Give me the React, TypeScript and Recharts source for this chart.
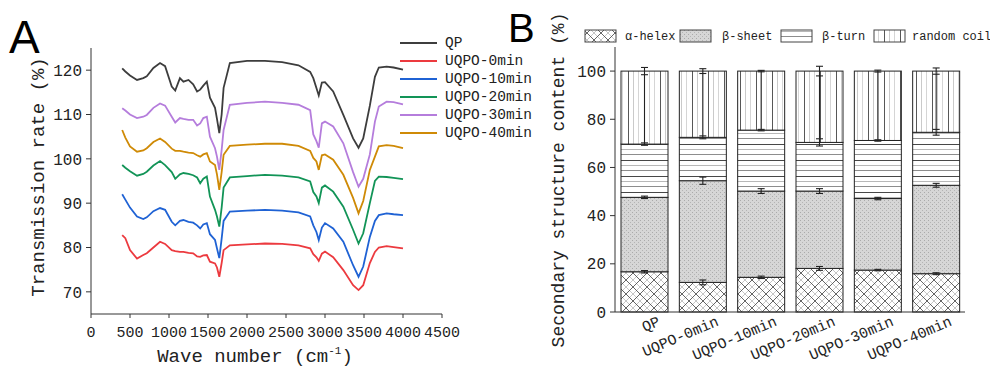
import React from 'react';
import { LineChart, Line, XAxis, YAxis, BarChart, Bar, Legend } from 'recharts';

// ---------- Panel A data (FTIR spectra) ----------
const WAVENUMBERS = [400, 440, 500, 590, 670, 715, 800, 885, 950, 1035, 1080, 1140, 1185, 1250, 1310, 1360, 1400, 1440, 1485, 1525, 1590, 1615, 1645, 1675, 1700, 1780, 2000, 2230, 2450, 2660, 2810, 2850, 2890, 2920, 2960, 3000, 3105, 3235, 3360, 3430, 3490, 3575, 3640, 3690, 3790, 3880, 4000];
const QP_VALUES = [120.4, 119.7, 118.8, 117.8, 118.2, 118.6, 120.5, 121.6, 120.9, 116.3, 115.4, 118.2, 117.4, 117.8, 116.8, 115.2, 115.6, 116.5, 117.4, 113.8, 111.5, 109, 105.8, 110, 116, 121.6, 122.1, 122.1, 121.8, 121.1, 119.6, 118.2, 116, 114.3, 117.2, 117.3, 115.2, 109.9, 104.6, 102.5, 104.6, 112, 118.5, 120.6, 120.8, 120.6, 120.1];
const UQPO0_VALUES = [82.8, 82.1, 79.4, 77.5, 78.3, 78.7, 80, 81.3, 80.8, 79.4, 79.2, 79, 79, 78.8, 78.7, 78, 77.9, 78.2, 78.3, 76.8, 76.4, 75.5, 73.4, 76.5, 79.4, 80.5, 80.7, 80.9, 80.8, 80.5, 79.8, 78.5, 77.8, 77, 78.6, 79.1, 77.8, 74.9, 71.5, 70.4, 71.5, 76.5, 79, 80, 80.3, 80.1, 79.8];
const UQPO10_VALUES = [92, 90.8, 89, 87, 86.4, 86.8, 88.2, 88.9, 88.5, 85.8, 85, 86, 86.2, 85.8, 85.6, 85, 84.3, 85.2, 85.5, 83, 81.7, 79.8, 77.6, 82, 86, 88.1, 88.3, 88.5, 88.3, 87.9, 87, 85, 83.5, 81.7, 84.5, 85.5, 84.3, 81.3, 76, 73.4, 75.7, 82.4, 86, 87.3, 87.7, 87.5, 87.3];
const UQPO20_VALUES = [98.6, 98, 97.2, 96.2, 96.6, 97.1, 98.5, 99.5, 98.6, 97, 95.5, 96.5, 96.8, 96.6, 96.3, 95.8, 94.5, 95.5, 96, 91.5, 88.5, 87, 84.7, 89, 93.5, 95.8, 96.1, 96.4, 96.2, 95.8, 94.9, 92.5, 91.5, 90, 93.5, 94, 92.6, 89.2, 84, 80.9, 83.2, 90, 95, 96, 95.9, 95.7, 95.4];
const UQPO30_VALUES = [111.4, 110.9, 110, 109.2, 109.5, 109.9, 111.5, 112.5, 112, 109.5, 108.2, 109.2, 109, 108.8, 108.8, 107.5, 108, 109.2, 109.5, 105, 102.4, 100.5, 97.5, 102, 106.5, 112.2, 112.6, 112.9, 112.6, 112.2, 111, 105.5, 104, 102.5, 108, 108.4, 107.3, 103.5, 97, 93.7, 95.5, 101, 108.4, 111.8, 112.9, 112.8, 112.3];
const UQPO40_VALUES = [106.5, 104.8, 102.8, 101.6, 101.9, 102.4, 103.8, 104.6, 103.8, 102.3, 101.8, 101.8, 101.6, 101.4, 101.3, 100.8, 100.5, 101, 101.3, 99.4, 98.6, 96.5, 93, 97, 100.9, 102.9, 103.2, 103.4, 103.4, 102.9, 101.8, 100.2, 99.4, 97.5, 100.8, 101, 99.8, 96.4, 91.2, 87.7, 90.5, 97.5, 100.5, 102.8, 103.1, 102.9, 102.4];
const SERIES_NAMES = ['QP', 'UQPO-0min', 'UQPO-10min', 'UQPO-20min', 'UQPO-30min', 'UQPO-40min'];
const SERIES_VALUES = [QP_VALUES, UQPO0_VALUES, UQPO10_VALUES, UQPO20_VALUES, UQPO30_VALUES, UQPO40_VALUES];
const X_TICKS_A = [0, 500, 1000, 1500, 2000, 2500, 3000, 3500, 4000, 4500];
const Y_TICKS_A = [70, 80, 90, 100, 110, 120];

// ---------- Panel B data (secondary structure) ----------
const CATEGORIES_B = ['QP', 'UQPO-0min', 'UQPO-10min', 'UQPO-20min', 'UQPO-30min', 'UQPO-40min'];
const HELIX = [16.7, 12.3, 14.4, 18.1, 17.4, 15.9];
const SHEET = [30.9, 42.2, 35.8, 32.1, 29.7, 36.7];
const TURN = [22.1, 18.0, 25.3, 20.2, 24.1, 22.0];
const COIL = [30.3, 27.5, 24.5, 29.6, 28.8, 25.4];
const HELIX_ERR = [0.5, 1.0, 0.5, 0.8, 0.3, 0.4];
const SHEET_ERR = [0.5, 1.5, 1.0, 1.0, 0.5, 0.8];
const TURN_ERR = [0.5, 0.6, 0.3, 1.5, 0.3, 1.2];
const COIL_ERR = [1.5, 1.0, 0.3, 2.0, 0.4, 1.3];
const LEGEND_B = ['α-helex', 'β-sheet', 'β-turn', 'random coil'];
const Y_TICKS_B = [0, 20, 40, 60, 80, 100];

// ---------- styles ----------
const FONT = "'Liberation Mono', 'DejaVu Sans Mono', monospace";
const LINE_COLORS = ['#3d3d3d', '#ec3a3f', '#1f62d4', '#129457', '#b57ddc', '#cf8a06'];
const PATTERN_IDS = ['pHelix', 'pSheet', 'pTurn', 'pCoil'];
const INK = '#222';

const lineData = WAVENUMBERS.map((wn, i) => {
  const row: Record<string, number> = { wn };
  SERIES_NAMES.forEach((n, s) => { row[n] = SERIES_VALUES[s][i]; });
  return row;
});

const barData = CATEGORIES_B.map((c, i) => ({
  name: c,
  helix: HELIX[i], sheet: SHEET[i], turn: TURN[i], coil: COIL[i],
  helixErr: HELIX_ERR[i], sheetErr: SHEET_ERR[i], turnErr: TURN_ERR[i], coilErr: COIL_ERR[i],
}));

const SegShape = (props: any) => {
  const { x, y, width, height, fill } = props;
  return <rect x={x} y={y} width={width} height={height} fill={fill} stroke={INK} strokeWidth={1} />;
};

// last segment: draws itself plus all error bars on top of the stack
const CoilShape = (props: any) => {
  const { x, y, width, height, fill, payload } = props;
  const ppu = payload.coil ? height / payload.coil : 0;
  const base = y + height + (payload.helix + payload.sheet + payload.turn) * ppu;
  const cx = x + width / 2;
  const tops = [
    payload.helix,
    payload.helix + payload.sheet,
    payload.helix + payload.sheet + payload.turn,
    payload.helix + payload.sheet + payload.turn + payload.coil,
  ];
  const errs = [payload.helixErr, payload.sheetErr, payload.turnErr, payload.coilErr];
  const cap = 3.5;
  return (
    <g>
      <rect x={x} y={y} width={width} height={height} fill={fill} stroke={INK} strokeWidth={1} />
      {tops.map((t, k) => {
        const ty = base - t * ppu;
        const e = errs[k] * ppu;
        const yLow = k === 3 ? y + height - errs[2] * ppu : ty + e;
        return (
          <g key={k} stroke={INK} strokeWidth={1.1}>
            <line x1={cx} x2={cx} y1={ty - e} y2={yLow} />
            <line x1={cx - cap} x2={cx + cap} y1={ty - e} y2={ty - e} />
            <line x1={cx - cap} x2={cx + cap} y1={ty + e} y2={ty + e} />
          </g>
        );
      })}
    </g>
  );
};

const BTick = (props: any) => {
  const { x, y, payload } = props;
  return (
    <text x={0} y={0} transform={`translate(${x + 17},${y + 13}) rotate(-23)`} textAnchor="end"
      fontSize={15} fontFamily={FONT} fill={INK}>{payload.value}</text>
  );
};

const LegendA = () => (
  <svg width={150} height={112}>
    {SERIES_NAMES.map((n, i) => (
      <g key={n}>
        <line x1={5} x2={42} y1={10 + i * 18} y2={10 + i * 18} stroke={LINE_COLORS[i]} strokeWidth={2} />
        <text x={50} y={10 + i * 18} dominantBaseline="central" fontSize={14.5} fontFamily={FONT} fill={INK}>{n}</text>
      </g>
    ))}
  </svg>
);

const LEG_B_SWATCH_X = [5, 100, 201, 294];
const LEG_B_TEXT_X = [45, 142, 242, 332];
const LegendB = () => (
  <svg width={412} height={20}>
    {LEGEND_B.map((n, i) => (
      <g key={n}>
        <rect x={LEG_B_SWATCH_X[i]} y={4} width={31} height={12} fill={`url(#${PATTERN_IDS[i]})`} stroke="#444" strokeWidth={1} />
        <text x={LEG_B_TEXT_X[i]} y={14} fontSize={12} fontFamily={FONT} fill={INK}>{n}</text>
      </g>
    ))}
  </svg>
);

export default function App() {
  return (
    <div style={{ position: 'absolute', left: 0, top: 0, width: 990, height: 367, background: '#fff', overflow: 'hidden' }}>
      <div style={{ position: 'absolute', left: 0, top: 0 }}>
        <LineChart width={545} height={367} data={lineData} margin={{ top: 48, right: 103, bottom: 13, left: 41 }}>
          <XAxis dataKey="wn" type="number" domain={[0, 4500]} ticks={X_TICKS_A} interval={0} allowDataOverflow
            tickSize={4} tickMargin={8} height={40} stroke="#333"
            tick={{ fontSize: 15, fontFamily: FONT, fill: INK }} />
          <YAxis type="number" domain={[65, 125]} ticks={Y_TICKS_A} interval={0} width={50}
            tickSize={5} tickMargin={4} stroke="#333"
            tick={{ fontSize: 16, fontFamily: FONT, fill: INK }} />
          {SERIES_NAMES.map((n, i) => (
            <Line key={n} dataKey={n} type="linear" stroke={LINE_COLORS[i]} strokeWidth={1.8} dot={false} isAnimationActive={false} />
          ))}
          <Legend layout="horizontal" verticalAlign="middle" align="center" content={<LegendA />}
            wrapperStyle={{ position: 'absolute', left: 395, top: 33, width: 150, height: 112 }} />
        </LineChart>
      </div>
      <div style={{ position: 'absolute', left: 500, top: 0 }}>
        <BarChart width={490} height={367} data={barData} margin={{ top: 47, right: 25, bottom: 5, left: 65 }}>
          <XAxis dataKey="name" interval={0} tickLine={false} tickSize={0} tickMargin={0} height={50} stroke="#333" tick={<BTick />} />
          <YAxis type="number" domain={[0, 110]} ticks={Y_TICKS_B} interval={0} width={50}
            tickSize={5} tickMargin={4} stroke="#333"
            tick={{ fontSize: 16, fontFamily: FONT, fill: INK }} />
          <Bar dataKey="helix" stackId="s" barSize={47} fill="url(#pHelix)" shape={<SegShape />} isAnimationActive={false} />
          <Bar dataKey="sheet" stackId="s" barSize={47} fill="url(#pSheet)" shape={<SegShape />} isAnimationActive={false} />
          <Bar dataKey="turn" stackId="s" barSize={47} fill="url(#pTurn)" shape={<SegShape />} isAnimationActive={false} />
          <Bar dataKey="coil" stackId="s" barSize={47} fill="url(#pCoil)" shape={<CoilShape />} isAnimationActive={false} />
          <Legend layout="horizontal" verticalAlign="middle" align="center" content={<LegendB />}
            wrapperStyle={{ position: 'absolute', left: 80, top: 26, width: 412, height: 20 }} />
        </BarChart>
      </div>
      <svg width={990} height={367} style={{ position: 'absolute', left: 0, top: 0, pointerEvents: 'none' }}>
        <defs>
          <pattern id="pHelix" patternUnits="userSpaceOnUse" width={14} height={14}>
            <rect width={14} height={14} fill="#fff" />
            <path d="M7,0 L14,7 L7,14 L0,7 Z" fill="none" stroke="#b8b8b8" strokeWidth={0.8} />
            <path d="M0,0 L14,14 M14,0 L0,14" stroke="#555" strokeWidth={0.9} />
            <circle cx={7} cy={7} r={0.7} fill="#666" />
          </pattern>
          <pattern id="pSheet" patternUnits="userSpaceOnUse" width={4} height={4}>
            <rect width={4} height={4} fill="#d6d6d6" />
            <rect x={0} y={0} width={1} height={1} fill="#aaaaaa" />
            <rect x={2} y={2} width={1} height={1} fill="#b4b4b4" />
          </pattern>
          <pattern id="pTurn" patternUnits="userSpaceOnUse" width={4} height={16}>
            <rect width={4} height={16} fill="#fff" />
            <line x1={0} x2={4} y1={0.5} y2={0.5} stroke="#333" strokeWidth={0.9} />
            <line x1={0} x2={4} y1={5.5} y2={5.5} stroke="#b0b0b0" strokeWidth={0.9} />
            <line x1={0} x2={4} y1={10.5} y2={10.5} stroke="#808080" strokeWidth={0.9} />
          </pattern>
          <pattern id="pCoil" patternUnits="userSpaceOnUse" width={16} height={4}>
            <rect width={16} height={4} fill="#fff" />
            <line x1={0.5} x2={0.5} y1={0} y2={4} stroke="#444" strokeWidth={0.9} />
            <line x1={5.5} x2={5.5} y1={0} y2={4} stroke="#c4c4c4" strokeWidth={0.9} />
            <line x1={10.5} x2={10.5} y1={0} y2={4} stroke="#d0d0d0" strokeWidth={0.9} />
          </pattern>
        </defs>
        <text x={9} y={53} fontSize={46} fontFamily="'Liberation Sans', Arial, sans-serif" fill="#000">A</text>
        <text x={508} y={42} fontSize={40} fontFamily="'Liberation Sans', Arial, sans-serif" fill="#000">B</text>
        <text transform="translate(44,177) rotate(-90)" textAnchor="middle" fontSize={19} fontFamily={FONT} fill={INK}>Transmission rate (%)</text>
        <text transform="translate(564,180) rotate(-90)" textAnchor="middle" fontSize={18} fontFamily={FONT} fill={INK}>Secondary structure content (%)</text>
        <text x={255} y={362} textAnchor="middle" fontSize={19} fontFamily={FONT} fill={INK}>
          Wave number (cm<tspan fontSize={11} dy={-8}>-1</tspan><tspan dy={8}>)</tspan>
        </text>
      </svg>
    </div>
  );
}
